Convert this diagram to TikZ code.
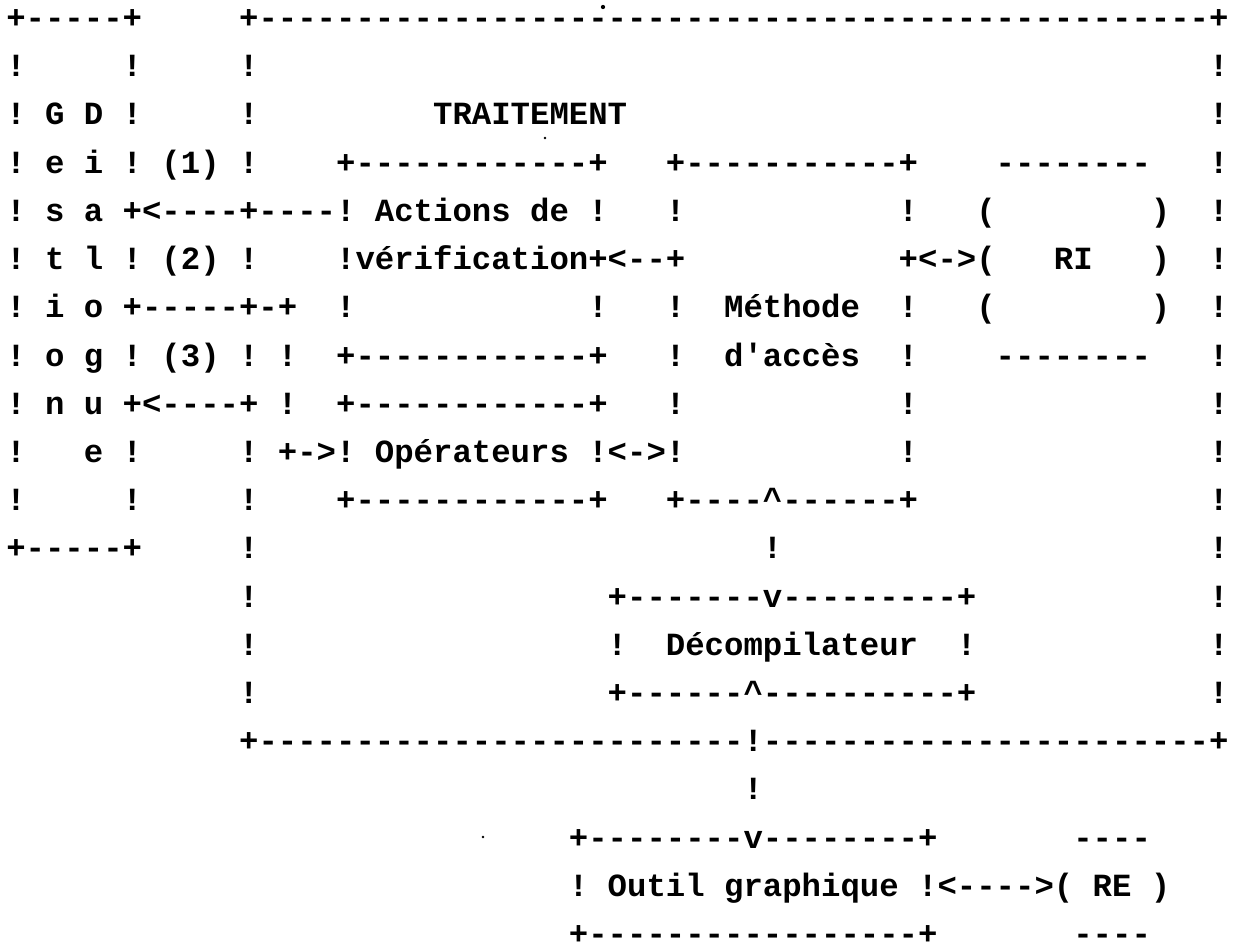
\documentclass[tikz,border=0pt]{standalone}
\usepackage{fontspec}
\setmonofont{Liberation Mono}
\ExplSyntaxOn
\newcommand\Dsh[1]{\prg_replicate:nn{#1}{-}}
\ExplSyntaxOff
\tikzset{
  tt/.style={anchor=base west, inner sep=0pt, outer sep=0pt,
    font=\ttfamily\bfseries\fontsize{24.25pt}{24.25pt}\selectfont},
  speck/.style={fill=black}
}
% \seg{name}{row}{column}{text}
\newcommand\seg[4]{\node[tt] (#1) at ({6.3+19.4*#3},{28.6+48.2*(#2-1)}) {#4};}
\begin{document}
\begin{tikzpicture}[x=0.75pt,y=-0.75pt]
\fill[white] (0,0) rectangle (1238,945);
\useasboundingbox (0,0) rectangle (1238,945);
% row 1
\seg{r1a}{1}{0}{+\Dsh{5}+}
\seg{r1b}{1}{12}{+\Dsh{49}+}
% row 2
\seg{r2a}{2}{0}{!}
\seg{r2b}{2}{6}{!}
\seg{r2c}{2}{12}{!}
\seg{r2d}{2}{62}{!}
% row 3
\seg{r3a}{3}{0}{!~G~D~!}
\seg{r3b}{3}{12}{!}
\seg{r3c}{3}{22}{TRAITEMENT}
\seg{r3d}{3}{62}{!}
% row 4
\seg{r4a}{4}{0}{!~e~i~!~(1)~!}
\seg{r4b}{4}{17}{+\Dsh{12}+}
\seg{r4c}{4}{34}{+\Dsh{11}+}
\seg{r4d}{4}{51}{\Dsh{8}}
\seg{r4e}{4}{62}{!}
% row 5
\seg{r5a}{5}{0}{!~s~a~+<\Dsh{4}+\Dsh{4}!~Actions~de~!}
\seg{r5b}{5}{34}{!}
\seg{r5c}{5}{46}{!}
\seg{r5d}{5}{50}{(}
\seg{r5e}{5}{59}{)}
\seg{r5f}{5}{62}{!}
% row 6
\seg{r6a}{6}{0}{!~t~l~!~(2)~!}
\seg{r6b}{6}{17}{!vérification+<\Dsh{2}+}
\seg{r6c}{6}{46}{+<->(}
\seg{r6d}{6}{54}{RI}
\seg{r6e}{6}{59}{)}
\seg{r6f}{6}{62}{!}
% row 7
\seg{r7a}{7}{0}{!~i~o~+\Dsh{5}+-+}
\seg{r7b}{7}{17}{!}
\seg{r7c}{7}{30}{!}
\seg{r7d}{7}{34}{!~~Méthode~~!}
\seg{r7e}{7}{50}{(}
\seg{r7f}{7}{59}{)}
\seg{r7g}{7}{62}{!}
% row 8
\seg{r8a}{8}{0}{!~o~g~!~(3)~!~!}
\seg{r8b}{8}{17}{+\Dsh{12}+}
\seg{r8c}{8}{34}{!~~d'accès~~!}
\seg{r8d}{8}{51}{\Dsh{8}}
\seg{r8e}{8}{62}{!}
% row 9
\seg{r9a}{9}{0}{!~n~u~+<\Dsh{4}+~!}
\seg{r9b}{9}{17}{+\Dsh{12}+}
\seg{r9c}{9}{34}{!}
\seg{r9d}{9}{46}{!}
\seg{r9e}{9}{62}{!}
% row 10
\seg{r10a}{10}{0}{!~~~e~!}
\seg{r10b}{10}{12}{!~+->!~Opérateurs~!<->!}
\seg{r10c}{10}{46}{!}
\seg{r10d}{10}{62}{!}
% row 11
\seg{r11a}{11}{0}{!~~~~~!}
\seg{r11b}{11}{12}{!}
\seg{r11c}{11}{17}{+\Dsh{12}+}
\seg{r11d}{11}{34}{+\Dsh{4}\textasciicircum\Dsh{6}+}
\seg{r11e}{11}{62}{!}
% row 12
\seg{r12a}{12}{0}{+\Dsh{5}+}
\seg{r12b}{12}{12}{!}
\seg{r12c}{12}{39}{!}
\seg{r12d}{12}{62}{!}
% row 13
\seg{r13a}{13}{12}{!}
\seg{r13b}{13}{31}{+\Dsh{7}v\Dsh{9}+}
\seg{r13c}{13}{62}{!}
% row 14
\seg{r14a}{14}{12}{!}
\seg{r14b}{14}{31}{!~~Décompilateur~~!}
\seg{r14c}{14}{62}{!}
% row 15
\seg{r15a}{15}{12}{!}
\seg{r15b}{15}{31}{+\Dsh{6}\textasciicircum\Dsh{10}+}
\seg{r15c}{15}{62}{!}
% row 16
\seg{r16a}{16}{12}{+\Dsh{25}!\Dsh{23}+}
% row 17
\seg{r17a}{17}{38}{!}
% row 18
\seg{r18a}{18}{29}{+\Dsh{8}v\Dsh{8}+}
\seg{r18b}{18}{55}{\Dsh{4}}
% row 19
\seg{r19a}{19}{29}{!~Outil~graphique~!<\Dsh{4}>(~RE~)}
% row 20
\seg{r20a}{20}{29}{+\Dsh{17}+}
\seg{r20b}{20}{55}{\Dsh{4}}
% scan specks
\fill[speck] (603,7) circle[radius=1.6pt];
\fill[speck] (545,138) circle[radius=1pt];
\fill[speck] (483,837) circle[radius=1pt];
\end{tikzpicture}
\end{document}
